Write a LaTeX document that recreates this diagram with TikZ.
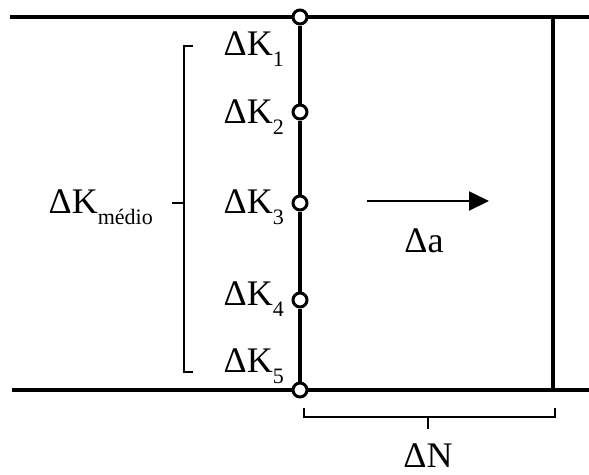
\documentclass[tikz,border=0pt]{standalone}
\usepackage{fontspec}
\setmainfont{Liberation Serif}
\usetikzlibrary{arrows.meta}
\newcommand\lowsub[1]{\raisebox{-11pt}{\fontsize{22}{22}\selectfont #1}}
\begin{document}
\begin{tikzpicture}[x=1pt,y=-1pt,
  thickline/.style={line width=3.5pt},
  thinline/.style={line width=1.8pt},
  pt/.style={circle,draw,line width=3pt,fill=white,minimum size=14pt,inner sep=0pt},
  lbl/.style={font=\fontsize{36}{36}\selectfont,inner sep=0pt}]
\useasboundingbox (0,0) rectangle (589,474);
% main lines
\coordinate (tl) at (10,17);
\coordinate (tr) at (589,17);
\coordinate (bl) at (12,390);
\coordinate (br) at (589,390);
\coordinate (rt) at (553,17);
\coordinate (rb) at (553,390);
\draw[thickline] (tl) -- (tr);
\draw[thickline] (bl) -- (br);
\draw[line width=3.2pt] (rt) -- (rb);
\node[pt] (c1) at (300,17) {};
\node[pt] (c2) at (300,112) {};
\node[pt] (c3) at (300,203) {};
\node[pt] (c4) at (300,300) {};
\node[pt] (c5) at (300,390) {};
\draw[line width=3.2pt] (c1) -- (c2) -- (c3) -- (c4) -- (c5);
% labels
\node[lbl,anchor=base east] (k1) at (284,55) {ΔK\lowsub{1}};
\node[lbl,anchor=base east] (k2) at (284,123) {ΔK\lowsub{2}};
\node[lbl,anchor=base east] (k3) at (284,213) {ΔK\lowsub{3}};
\node[lbl,anchor=base east] (k4) at (284,305) {ΔK\lowsub{4}};
\node[lbl,anchor=base east] (k5) at (284,372) {ΔK\lowsub{5}};
% left bracket
\coordinate (bt) at (193,46);
\coordinate (bb) at (193,372);
\draw[thinline] (bt) -- (184,46) -- (184,372) -- (bb);
\coordinate (tick) at (172,203);
\draw[thinline] (tick) -- (184,203);
\node[lbl,anchor=base east] (km) at (153,213) {ΔK\lowsub{médio}};
% arrow
\coordinate (a1) at (367,201);
\coordinate (a2) at (489,201);
\draw[line width=2pt,-{Triangle[length=20pt,width=19pt]}] (a1) -- (a2);
\node[lbl,anchor=base] (da) at (424,252) {Δa};
% bottom bracket
\coordinate (n1) at (304,408);
\coordinate (n2) at (555,408);
\draw[thinline] (n1) -- (304,417) -- (555,417) -- (n2);
\coordinate (nt) at (428,429);
\draw[thinline] (428,417) -- (nt);
\node[lbl,anchor=base] (dn) at (428,467) {ΔN};
\end{tikzpicture}
\end{document}
